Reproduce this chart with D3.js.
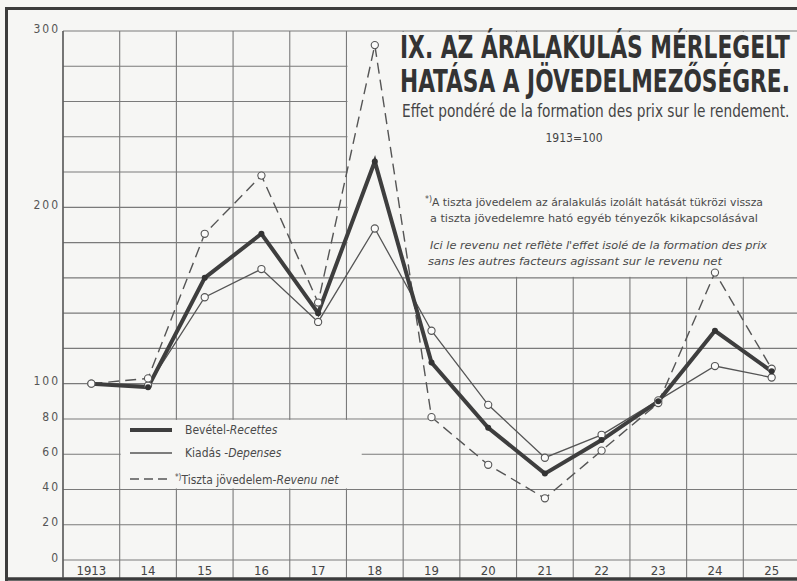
<!DOCTYPE html>
<html>
<head>
<meta charset="utf-8">
<script src="https://cdn.jsdelivr.net/npm/d3@7"></script>
<style>
  body { margin: 0; background: #f6f6f4; }
  svg { display: block; font-family: "DejaVu Sans Condensed", "DejaVu Sans", sans-serif; font-stretch: condensed; }
</style>
</head>
<body>
<div id="chart"></div>
<script>
// Years (1913 = 100)
const years = ["1913", "14", "15", "16", "17", "18", "19", "20", "21", "22", "23", "24", "25"];

// Bevétel - Recettes (thick line)
const bevetel = [100, 98, 160, 185, 140, 226, 112, 75, 49, 68, 90, 130, 107];
// Kiadás - Dépenses (thin line)
const kiadas = [100, 99, 149, 165, 135, 188, 130, 88, 58, 71, 90.5, 110, 103.5];
// Tiszta jövedelem - Revenu net (dashed line)
const tisztaJovedelem = [100, 103, 185, 218, 146, 292, 81, 54, 35, 62, 89, 163, 108.5];

// Y tick labels and grid steps
const yTickLabels = [0, 20, 40, 60, 80, 100, 200, 300];
const yGridValues = [0, 20, 40, 60, 80, 100, 120, 140, 160, 180, 200, 220, 240, 260, 280, 300];

const width = 797;
const height = 581;
const grid = "#7a7a7a";

const svg = d3.select("#chart")
  .append("svg")
  .attr("width", width)
  .attr("height", height);

svg.append("rect")
  .attr("width", width)
  .attr("height", height)
  .attr("fill", "#f6f6f4");

// Scales
const xScale = d3.scaleBand()
  .domain(years)
  .range([63, 800]);

const yScale = d3.scaleLinear()
  .domain([0, 300])
  .range([560, 31]);

// Horizontal grid
svg.append("g")
  .selectAll("line")
  .data(yGridValues)
  .enter()
  .append("line")
  .attr("x1", xScale.range()[0])
  .attr("x2", 800)
  .attr("y1", d => yScale(d))
  .attr("y2", d => yScale(d))
  .attr("stroke", grid)
  .attr("stroke-width", 1.1);

// Vertical grid (band edges, running through the year row)
svg.append("g")
  .selectAll("line")
  .data(years)
  .enter()
  .append("line")
  .attr("x1", d => xScale(d))
  .attr("x2", d => xScale(d))
  .attr("y1", yScale(300))
  .attr("y2", 578)
  .attr("stroke", grid)
  .attr("stroke-width", 1.1);

// Blank panel behind the title (hides the grid there)
svg.append("rect")
  .attr("x", xScale("18") + 1)
  .attr("y", yScale(300) + 1)
  .attr("width", 800 - xScale("18"))
  .attr("height", yScale(160) - yScale(300) - 2)
  .attr("fill", "#f6f6f4");

// Blank panel behind the legend
svg.append("rect")
  .attr("x", xScale("14") + 1)
  .attr("y", yScale(80) + 1)
  .attr("width", 241)
  .attr("height", yScale(40) - yScale(80) - 2)
  .attr("fill", "#f6f6f4");

// Y labels
svg.append("g")
  .attr("transform", `translate(${xScale.range()[0] - 3}, 0)`)
  .call(d3.axisLeft(yScale).tickValues(yTickLabels).tickSize(0).tickPadding(0).tickFormat(d3.format("d")))
  .call(g => g.select(".domain").remove())
  .selectAll("text")
  .attr("dy", "0.1em")
  .style("font-size", "12px")
  .style("letter-spacing", "2px")
  .style("font-family", "'DejaVu Sans', sans-serif")
  .style("fill", "#555");

// X labels
svg.append("g")
  .attr("transform", `translate(0, ${yScale(0)})`)
  .call(d3.axisBottom(xScale).tickSize(0).tickPadding(4))
  .call(g => g.select(".domain").remove())
  .selectAll("text")
  .attr("dy", "0.85em")
  .style("font-size", "13px")
  .style("font-family", "'DejaVu Sans', sans-serif")
  .style("fill", "#444");

// Frame
svg.append("path")
  .attr("d", "M6.5,581 V8.5 H800")
  .attr("fill", "none")
  .attr("stroke", "#3c3c3c")
  .attr("stroke-width", 3);
svg.append("line")
  .attr("x1", 6).attr("x2", 800)
  .attr("y1", 579).attr("y2", 579)
  .attr("stroke", "#3c3c3c")
  .attr("stroke-width", 3.5);
svg.append("line")
  .attr("x1", xScale.range()[0]).attr("x2", xScale.range()[0])
  .attr("y1", yScale(300)).attr("y2", 578)
  .attr("stroke", "#555")
  .attr("stroke-width", 1.3);

// Lines
const series = [
  {name: "kiadas", values: kiadas, width: 1.3, dash: null, color: "#555"},
  {name: "tiszta", values: tisztaJovedelem, width: 1.4, dash: "11,6", color: "#555"},
  {name: "bevetel", values: bevetel, width: 4, dash: null, color: "#3e3e3e"}
];

const line = d3.line()
  .x((d, i) => xScale(years[i]) + xScale.bandwidth() / 2)
  .y(d => yScale(d));

series.forEach(s => {
  svg.append("path")
    .datum(s.values)
    .attr("d", line)
    .attr("fill", "none")
    .attr("stroke", s.color)
    .attr("stroke-width", s.width)
    .attr("stroke-dasharray", s.dash)
    .attr("stroke-linejoin", "miter");
});

// Open circles on thin and dashed lines
[kiadas, tisztaJovedelem].forEach(vals => {
  svg.append("g")
    .selectAll("circle")
    .data(vals)
    .enter()
    .append("circle")
    .attr("cx", (d, i) => xScale(years[i]) + xScale.bandwidth() / 2)
    .attr("cy", d => yScale(d))
    .attr("r", 3.6)
    .attr("fill", "#fbfbfa")
    .attr("stroke", "#555")
    .attr("stroke-width", 1.1);
});

// Dark dots on the thick line
svg.append("g")
  .selectAll("circle")
  .data(bevetel.slice(1))
  .enter()
  .append("circle")
  .attr("cx", (d, i) => xScale(years[i + 1]) + xScale.bandwidth() / 2)
  .attr("cy", d => yScale(d))
  .attr("r", 3)
  .attr("fill", "#333");

// Text squeezed horizontally to a given width (real geometry, via scale)
function fitText(parent, x, y, target, size, weight, txt) {
  const g = parent.append("g").attr("transform", `translate(${x},${y})`);
  const t = g.append("text")
    .style("font-size", size + "px")
    .style("font-weight", weight)
    .text(txt);
  const w = t.node().getComputedTextLength();
  t.attr("transform", `scale(${target / w},1)`);
  return t;
}

// Title block
const title = svg.append("g").style("fill", "#333");
fitText(title, 400, 58, 390, 32, "600", "IX. AZ ÁRALAKULÁS MÉRLEGELT");
fitText(title, 400, 92, 390, 32, "600", "HATÁSA A JÖVEDELMEZŐSÉGRE.");
fitText(title, 402, 117, 388, 17, "normal", "Effet pondéré de la formation des prix sur le rendement.").style("fill", "#444");
title.append("text")
  .attr("x", 574).attr("y", 142)
  .attr("text-anchor", "middle")
  .style("font-size", "12px").style("fill", "#444")
  .text("1913=100");

// Footnote
const note = svg.append("g").style("fill", "#4a4a4a").style("font-size", "11px");
const n1 = note.append("text").attr("x", 425).attr("y", 205)
  .attr("textLength", 338).attr("lengthAdjust", "spacingAndGlyphs");
n1.append("tspan").attr("dy", "-0.35em").style("font-size", "8px").text("*)");
n1.append("tspan").attr("dy", "0.35em").text("A tiszta jövedelem az áralakulás izolált hatását tükrözi vissza");
note.append("text").attr("x", 430).attr("y", 222)
  .attr("textLength", 328).attr("lengthAdjust", "spacingAndGlyphs")
  .text("a tiszta jövedelemre ható egyéb tényezők kikapcsolásával");
note.append("text").attr("x", 430).attr("y", 249)
  .attr("textLength", 337).attr("lengthAdjust", "spacingAndGlyphs")
  .style("font-style", "italic")
  .text("Ici le revenu net reflète l'effet isolé de la formation des prix");
note.append("text").attr("x", 428).attr("y", 265)
  .attr("textLength", 294).attr("lengthAdjust", "spacingAndGlyphs")
  .style("font-style", "italic")
  .text("sans les autres facteurs agissant sur le revenu net");

// Legend
const legend = svg.append("g").style("font-size", "12px").style("fill", "#4a4a4a");
const legendItems = [
  {y: 430, width: 4, dash: null, roman: "Bevétel-", italic: "Recettes", star: false},
  {y: 453, width: 1.3, dash: null, roman: "Kiadás -", italic: "Depenses", star: false},
  {y: 479, width: 1.4, dash: "9,5", roman: "Tiszta jövedelem-", italic: "Revenu net", star: true}
];
legendItems.forEach(it => {
  legend.append("line")
    .attr("x1", 130).attr("x2", 172)
    .attr("y1", it.y).attr("y2", it.y)
    .attr("stroke", it.width > 2 ? "#3e3e3e" : "#555")
    .attr("stroke-width", it.width)
    .attr("stroke-dasharray", it.dash);
  const t = legend.append("text")
    .attr("x", it.star ? 175 : 185)
    .attr("y", it.y + 4);
  if (it.star) {
    t.append("tspan").attr("dy", "-0.35em").style("font-size", "8px").text("*)");
    t.append("tspan").attr("dy", "0.35em").text(it.roman);
  } else {
    t.append("tspan").text(it.roman);
  }
  t.append("tspan").style("font-style", "italic").text(it.italic);
});
</script>
</body>
</html>
